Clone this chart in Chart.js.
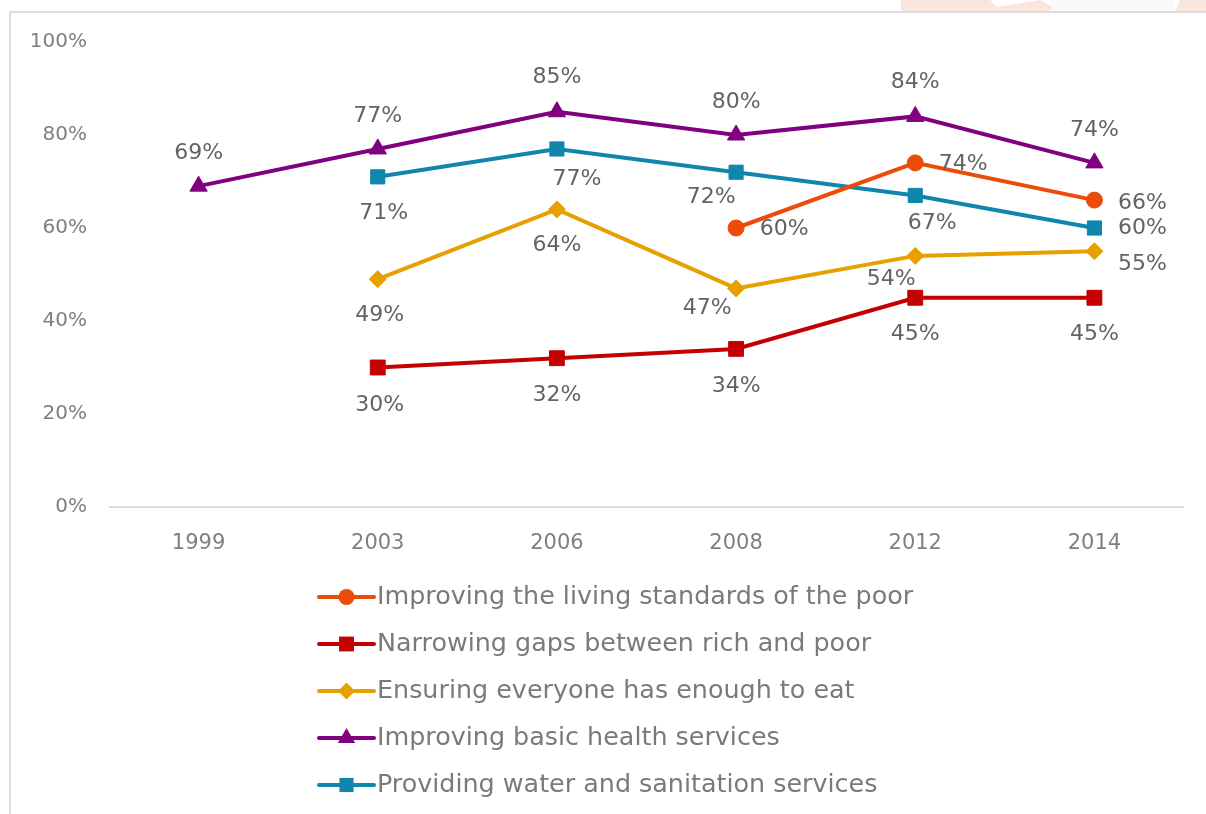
<!DOCTYPE html>
<html>
<head>
<meta charset="utf-8">
<script src="https://cdn.jsdelivr.net/npm/chart.js@4/dist/chart.umd.min.js"></script>
<style>
  html, body { margin: 0; padding: 0; background: #fff; }
  #wrap { width: 1206px; height: 814px; position: relative; }
</style>
</head>
<body>
<div id="wrap"><canvas id="myChart" width="1206" height="814"></canvas></div>
<script>
// survey years
let years = ["1999", "2003", "2006", "2008", "2012", "2014"];
let yTicks = [0, 20, 40, 60, 80, 100];

// values in percent, null where the question was not asked
let livingStandards = [null, null, null, 60, 74, 66];
let narrowingGaps   = [null, 30, 32, 34, 45, 45];
let enoughToEat     = [null, 49, 64, 47, 54, 55];
let healthServices  = [69, 77, 85, 80, 84, 74];
let waterSanitation = [null, 71, 77, 72, 67, 60];

let seriesNames = [
  "Improving the living standards of the poor",
  "Narrowing gaps between rich and poor",
  "Ensuring everyone has enough to eat",
  "Improving basic health services",
  "Providing water and sanitation services"
];

let fontFamily = "'DejaVu Sans', sans-serif";

// where each value label sits relative to its point [dx, dy]
let labelOffsets = [
  [null, null, null, [48, 1], [48, 1], [48, 3]],
  [null, [2, 38], [0, 37], [0, 37], [0, 37], [0, 37]],
  [null, [2, 36], [0, 36], [-29, 20], [-24, 23], [48, 13]],
  [[0, -33], [0, -33], [0, -34], [0, -33], [0, -34], [0, -33]],
  [null, [6, 36], [20, 30], [-25, 25], [17, 28], [48, 0]]
];

function makeSet(i, data, color, style, radius){
  return {
    label: seriesNames[i],
    data: data,
    borderColor: color,
    backgroundColor: color,
    borderWidth: 4,
    pointStyle: style,
    pointRadius: radius,
    pointHoverRadius: radius,
    pointBorderWidth: 1,
    tension: 0,
    labelOffsets: labelOffsets[i]
  };
}

// frame and faint watermark behind the chart
const framePlugin = {
  id: "frame",
  beforeDraw(chart){
    const c = chart.ctx;
    c.save();
    c.fillStyle = "#ffffff";
    c.fillRect(0, 0, chart.width, chart.height);
    c.fillStyle = "rgb(252,229,221)";
    c.beginPath();
    c.moveTo(901, 0); c.lineTo(990, 0); c.lineTo(997, 7); c.lineTo(1040, 0);
    c.lineTo(1051, 6); c.lineTo(1051, 11); c.lineTo(901, 11); c.closePath();
    c.fill();
    c.beginPath();
    c.moveTo(1180, 0); c.lineTo(1206, 0); c.lineTo(1206, 11); c.lineTo(1175, 11); c.closePath();
    c.fill();
    c.fillStyle = "#fafafa";
    c.fillRect(1051, 0, 124, 11);
    c.strokeStyle = "#dedede";
    c.lineWidth = 2;
    c.beginPath();
    c.moveTo(10, 814); c.lineTo(10, 12); c.lineTo(1206, 12);
    c.stroke();
    c.restore();
  }
};

function drawMarker(c, style, x, y, r, color){
  c.fillStyle = color;
  c.beginPath();
  if (style === "circle"){
    c.arc(x, y, r, 0, Math.PI * 2);
  } else if (style === "rect"){
    const s = Math.SQRT1_2 * r;
    c.rect(x - s, y - s, 2 * s, 2 * s);
  } else if (style === "rectRot"){
    c.moveTo(x, y - r); c.lineTo(x + r, y); c.lineTo(x, y + r); c.lineTo(x - r, y);
  } else if (style === "triangle"){
    c.moveTo(x, y - r); c.lineTo(x + r * 0.866, y + r * 0.5); c.lineTo(x - r * 0.866, y + r * 0.5);
  }
  c.closePath();
  c.fill();
}

// value labels and the stacked legend
const labelPlugin = {
  id: "valueLabels",
  afterDatasetsDraw(chart){
    const c = chart.ctx;
    c.save();
    c.font = "22px " + fontFamily;
    c.fillStyle = "#636363";
    c.textAlign = "center";
    c.textBaseline = "middle";
    chart.data.datasets.forEach((ds, i) => {
      const meta = chart.getDatasetMeta(i);
      meta.data.forEach((pt, j) => {
        const v = ds.data[j];
        if (v === null) return;
        const off = ds.labelOffsets[j] || [0, -30];
        c.fillText(v + "%", pt.x + off[0], pt.y + off[1]);
      });
    });

    // legend
    const x0 = 318, x1 = 375, y0 = 597, step = 47;
    chart.data.datasets.forEach((ds, i) => {
      const y = y0 + i * step;
      c.strokeStyle = ds.borderColor;
      c.lineWidth = 4;
      c.lineCap = "round";
      c.beginPath();
      c.moveTo(x0 + 1, y); c.lineTo(x1 - 1, y);
      c.stroke();
      drawMarker(c, ds.pointStyle, (x0 + x1) / 2, y, ds.pointRadius, ds.borderColor);
      c.font = "25.4px " + fontFamily;
      c.fillStyle = "#7a7a7a";
      c.textAlign = "left";
      c.fillText(ds.label, x1 + 2, y);
    });
    c.restore();
  }
};

let ctx = document.getElementById("myChart").getContext("2d");
let myChart = new Chart(ctx, {
  type: "line",
  data: {
    labels: years,
    datasets: [
      makeSet(0, livingStandards, "rgb(236,76,10)", "circle", 8),
      makeSet(1, narrowingGaps, "rgb(196,0,0)", "rect", 10.5),
      makeSet(2, enoughToEat, "rgb(230,160,0)", "rectRot", 8.5),
      makeSet(3, healthServices, "rgb(128,0,128)", "triangle", 10),
      makeSet(4, waterSanitation, "rgb(16,134,172)", "rect", 10)
    ]
  },
  options: {
    responsive: false,
    animation: false,
    layout: { padding: { top: 42, right: 22, left: 0, bottom: 0 } },
    plugins: {
      legend: { display: false },
      tooltip: { enabled: false },
      title: { display: false }
    },
    scales: {
      x: {
        offset: true,
        grid: { display: false, drawTicks: false },
        border: { display: false },
        ticks: { color: "#7f7f7f", font: { family: fontFamily, size: 21 }, padding: 24 },
        afterFit(scale){ scale.height = 307; }
      },
      y: {
        min: 0,
        max: 100,
        afterBuildTicks(scale){ scale.ticks = yTicks.map(v => ({ value: v })); },
        grid: {
          drawTicks: false,
          lineWidth: 2,
          color: (c) => c.tick && c.tick.value === 0 ? "#dcdcdc" : "rgba(0,0,0,0)"
        },
        border: { display: false },
        ticks: {
          color: "#7f7f7f",
          font: { family: fontFamily, size: 20 },
          padding: 22,
          callback: (v) => v + "%"
        },
        afterFit(scale){ scale.width = 109; }
      }
    }
  },
  plugins: [framePlugin, labelPlugin]
});
</script>
</body>
</html>
